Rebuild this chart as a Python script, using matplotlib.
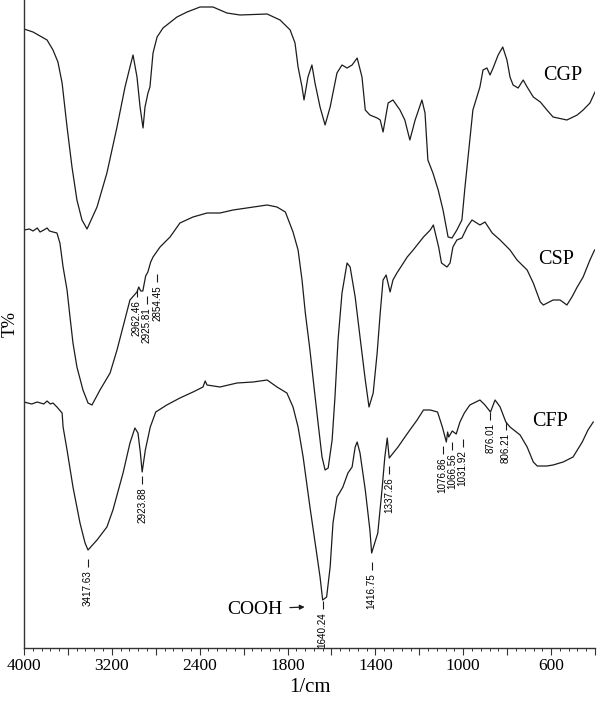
import numpy as np
import matplotlib
matplotlib.use("Agg")
import matplotlib.pyplot as plt
from matplotlib.ticker import FixedLocator, FuncFormatter

plt.rcParams['font.family'] = ['Liberation Serif', 'DejaVu Serif']

# ---------------- data (wavenumber in 1/cm, vertical position; larger = lower) -------------
cgp_wn = [4000, 3918, 3790, 3736, 3691, 3653, 3608, 3563, 3518, 3472, 3426, 3335, 3245, 3153, 3080, 3035,
          3007, 2971, 2943, 2916, 2898, 2871, 2853, 2825, 2788, 2734, 2607, 2515, 2397, 2279, 2152, 2033,
          1893, 1834, 1788, 1766, 1752, 1734, 1725, 1707, 1689, 1675, 1652, 1629, 1606, 1575, 1552, 1529,
          1506, 1483, 1461, 1446, 1425, 1392, 1378, 1365, 1342, 1320, 1288, 1266, 1243, 1219, 1188, 1174,
          1161, 1138, 1114, 1092, 1069, 1051, 1029, 1006, 992, 970, 956, 924, 910, 892, 878, 864, 841, 820,
          801, 787, 773, 750, 727, 709, 681, 649, 619, 591, 528, 481, 454, 423, 400]
cgp_t = [29, 32, 40, 50, 62, 83, 127, 167, 200, 220, 229, 207, 173, 127, 87, 67,
         55, 77, 107, 128, 107, 93, 87, 53, 37, 28, 17, 12, 7, 7, 13, 15,
         14, 20, 30, 43, 67, 87, 100, 77, 65, 83, 107, 125, 107, 73, 65, 68,
         65, 58, 77, 110, 115, 118, 120, 132, 103, 100, 110, 120, 140, 120, 100, 113,
         160, 173, 190, 210, 237, 238, 230, 220, 187, 140, 110, 87, 70, 68, 75, 68, 55, 47,
         60, 77, 85, 88, 80, 87, 97, 102, 110, 117, 120, 115, 110, 103, 92]

csp_wn = [4000, 3950, 3918, 3879, 3854, 3819, 3790, 3768, 3736, 3700, 3673, 3644, 3608, 3581, 3554, 3518,
          3463, 3417, 3381, 3308, 3216, 3153, 3035, 2971, 2955, 2937, 2918, 2892, 2872, 2846, 2825, 2761,
          2670, 2580, 2461, 2333, 2215, 2096, 1893, 1848, 1810, 1775, 1752, 1734, 1719, 1698, 1683, 1661,
          1643, 1629, 1615, 1597, 1584, 1570, 1552, 1529, 1515, 1492, 1470, 1446, 1429, 1410, 1392, 1378,
          1365, 1351, 1333, 1320, 1302, 1255, 1228, 1181, 1150, 1136, 1112, 1099, 1074, 1060, 1047, 1029,
          1006, 982, 960, 924, 901, 868, 832, 787, 755, 709, 681, 649, 635, 591, 559, 528, 505, 481, 454,
          423, 402]
csp_t = [230, 229, 231, 228, 232, 230, 228, 231, 232, 233, 243, 267, 290, 317, 343, 367,
         390, 403, 405, 390, 373, 350, 300, 292, 287, 291, 291, 276, 272, 262, 257, 247,
         237, 223, 217, 213, 213, 210, 205, 207, 212, 232, 250, 280, 313, 350, 380, 423,
         457, 470, 468, 440, 397, 340, 293, 263, 267, 297, 337, 380, 407, 393, 353, 313,
         280, 275, 292, 280, 273, 257, 250, 237, 230, 225, 247, 263, 267, 263, 247, 240,
         238, 227, 220, 225, 222, 233, 240, 250, 260, 270, 283, 302, 305, 300, 300, 305, 297, 287, 277,
         260, 250]

cfp_wn = [4000, 3930, 3880, 3820, 3790, 3760, 3736, 3700, 3653, 3644, 3608, 3554, 3490, 3444, 3417, 3335,
          3245, 3190, 3098, 3035, 2990, 2962, 2940, 2924, 2895, 2850, 2800, 2700, 2580, 2461, 2370, 2350,
          2333, 2215, 2060, 1957, 1893, 1848, 1803, 1775, 1752, 1729, 1698, 1665, 1652, 1640, 1622, 1606,
          1593, 1575, 1561, 1548, 1525, 1506, 1492, 1483, 1470, 1446, 1425, 1417, 1389, 1370, 1357, 1346,
          1337, 1297, 1275, 1243, 1210, 1181, 1150, 1117, 1095, 1077, 1071, 1066, 1050, 1032, 1015, 995,
          970, 924, 901, 876, 855, 832, 806, 787, 741, 709, 681, 663, 619, 591, 545, 500, 458, 432, 408]
cfp_t = [402, 404, 402, 404, 401, 404, 403, 407, 413, 427, 450, 487, 523, 543, 550, 540,
         527, 510, 473, 443, 428, 433, 453, 472, 450, 427, 412, 405, 398, 392, 387, 381,
         385, 387, 383, 382, 380, 387, 393, 407, 427, 457, 507, 557, 577, 600, 597, 567,
         523, 497, 492, 487, 473, 467, 447, 442, 453, 490, 530, 553, 533, 490, 457, 438,
         458, 447, 440, 430, 420, 410, 410, 412, 427, 442, 432, 437, 431, 434, 422, 413,
         405, 400, 405, 412, 400, 407, 422, 427, 435, 447, 462, 466, 466, 465, 462, 457, 442, 430, 422]

series_names = ['CGP', 'CSP', 'CFP']

cfp_peaks = ['3417.63', '2923.88', '1640.24', '1416.75', '1337.26',
             '1076.86', '1066.56', '1031.92', '876.01', '806.21']
csp_peaks = ['2962.46', '2925.81', '2854.45']

tick_labels = {4000: '4000', 3200: '3200', 2400: '2400', 1800: '1800',
               1400: '1400', 1000: '1000', 600: '600'}

# ---------------- layout ----------------
series_label_pos = {'CGP': (545, 75), 'CSP': (578, 260), 'CFP': (605, 422)}
cfp_label_x = [3417, 2924, 1640, 1417, 1337, 1094, 1051, 1003, 876, 806]
cfp_label_top = [570, 487, 612, 573, 477, 457, 453, 450, 423, 433]
csp_label_x = [2975, 2882, 2788]
csp_label_top = [300, 307, 285]

BREAK = 2000.0


def fwd(w):
    w = np.asarray(w, dtype=float)
    return np.where(w >= BREAK, (w - BREAK) / 800.0, (w - BREAK) / 400.0)


def inv(p):
    p = np.asarray(p, dtype=float)
    return np.where(p >= 0, BREAK + 800.0 * p, BREAK + 400.0 * p)


fig = plt.figure(figsize=(6, 7.02), dpi=100)
ax = fig.add_axes([24 / 600, 54 / 702, 571 / 600, 648 / 702])
ax.set_xscale('function', functions=(fwd, inv))

line_kw = dict(color='#1c1c1c', lw=0.9)
for wn, t in [(cgp_wn, cgp_t), (csp_wn, csp_t), (cfp_wn, cfp_t)]:
    ax.plot(wn, t, **line_kw)

ax.set_xlim(4000, 400)
ax.set_ylim(648, 0)

# series names
for name in series_names:
    x, y = series_label_pos[name]
    ax.text(x, y, name, fontsize=14.5, ha='center', va='center')

# peak annotations
def peak_labels(labels, xs, tops):
    for lab, x, top in zip(labels, xs, tops):
        ax.vlines(x, top - 11, top - 3, color='#1c1c1c', lw=0.8)
        ax.text(x, top, lab, rotation=90, ha='center', va='top', fontsize=7.1,
                family=['Liberation Sans', 'DejaVu Sans'])

peak_labels(cfp_peaks, cfp_label_x, cfp_label_top)
peak_labels(csp_peaks, csp_label_x, csp_label_top)

ax.annotate('COOH', xy=(1722, 607), xytext=(1821, 609), ha='right', va='center',
            fontsize=14,
            arrowprops=dict(arrowstyle='-|>', color='#1c1c1c', lw=0.9,
                            mutation_scale=7, shrinkA=3, shrinkB=0))

# axes styling
for s in ['top', 'right']:
    ax.spines[s].set_visible(False)
ax.spines['left'].set_color('#333333')
ax.spines['bottom'].set_color('#333333')
ax.spines['left'].set_linewidth(1.0)
ax.spines['bottom'].set_linewidth(1.0)

majors = list(range(4000, 1999, -400)) + list(range(1800, 399, -200))
minors = [m for m in list(range(4000, 2000, -80)) + list(range(2000, 399, -40)) if m not in majors]
ax.xaxis.set_major_locator(FixedLocator(majors))
ax.xaxis.set_minor_locator(FixedLocator(minors))
ax.xaxis.set_major_formatter(FuncFormatter(lambda v, pos: tick_labels.get(int(round(v)), '')))
ax.xaxis.set_minor_formatter(FuncFormatter(lambda v, pos: ''))
ax.tick_params(axis='x', which='major', direction='out', length=5, width=0.8,
               labelsize=12.5, pad=2, color='#333333')
ax.tick_params(axis='x', which='minor', direction='out', length=2.5, width=0.7, color='#333333')
ax.tick_params(axis='y', left=False, labelleft=False)

ax.set_xlabel('1/cm', fontsize=15, labelpad=3)
ax.set_ylabel('T%', fontsize=13, labelpad=4)

fig.savefig('out.png', dpi=100)
